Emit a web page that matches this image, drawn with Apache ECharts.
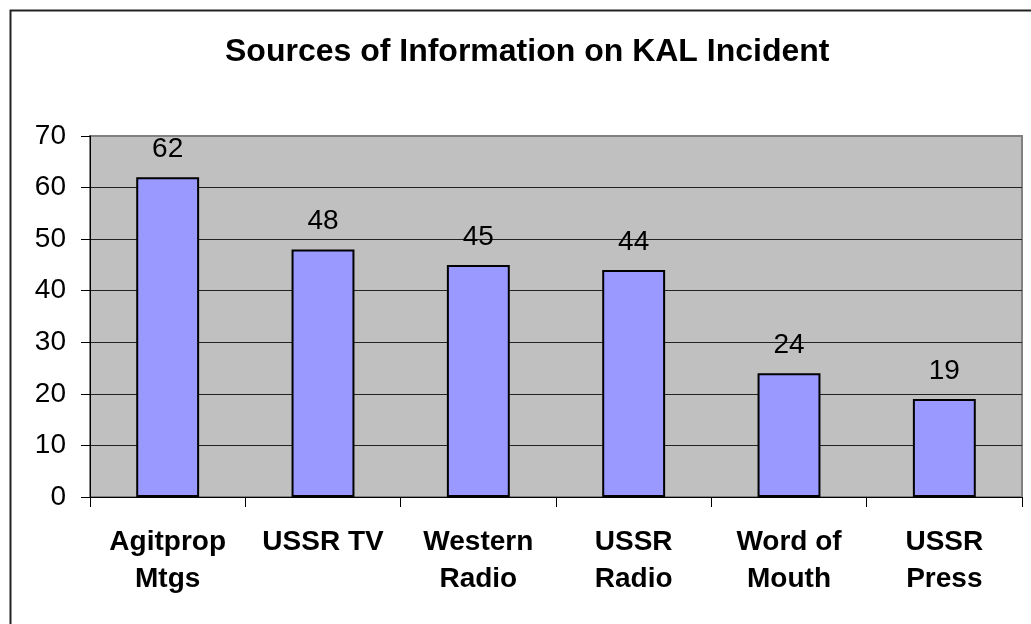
<!DOCTYPE html>
<html>
<head>
<meta charset="utf-8">
<script src="https://cdn.jsdelivr.net/npm/echarts@6/dist/echarts.min.js"></script>
<style>
html,body{margin:0;padding:0;background:#fff;}
#chart{width:1031px;height:624px;}
</style>
</head>
<body>
<div id="chart"></div>
<script>
const titleText = "Sources of Information on KAL Incident";
const categories = ["Agitprop\nMtgs", "USSR TV", "Western\nRadio", "USSR\nRadio", "Word of\nMouth", "USSR\nPress"];
const values = [62, 48, 45, 44, 24, 19];
const yMin = 0, yMax = 70, yInterval = 10;

const FONT = '"Liberation Sans", Arial, sans-serif';
const chart = echarts.init(document.getElementById('chart'), null, {renderer: 'canvas'});
chart.setOption({
  animation: false,
  backgroundColor: '#ffffff',
  title: {
    text: titleText,
    left: 220,
    top: 31,
    textStyle: {fontFamily: FONT, fontSize: 32, fontWeight: 'bold', color: '#000'}
  },
  graphic: [{
    type: 'rect',
    left: 8, top: 8,
    shape: {x: 0, y: 0, width: 1100, height: 700},
    style: {fill: 'none', stroke: '#222', lineWidth: 2},
    silent: true, z: -10
  }],
  grid: {
    left: 90, right: 9, top: 136, bottom: 127,
    show: true,
    backgroundColor: '#C0C0C0',
    borderColor: '#808080',
    borderWidth: 2
  },
  xAxis: {
    type: 'category',
    data: categories,
    axisLine: {show: true, lineStyle: {color: '#000', width: 1}},
    axisTick: {show: true, inside: false, length: 10, alignWithLabel: false, lineStyle: {color: '#000'}},
    axisLabel: {
      interval: 0, margin: 27,
      fontFamily: FONT, fontSize: 28, fontWeight: 'bold', color: '#000',
      lineHeight: 37, align: 'center'
    },
    splitLine: {show: false}
  },
  yAxis: {
    type: 'value',
    min: yMin, max: yMax, interval: yInterval,
    axisLine: {show: true, lineStyle: {color: '#000', width: 1}},
    axisTick: {show: true, inside: false, length: 9, lineStyle: {color: '#000'}},
    axisLabel: {margin: 24, fontFamily: FONT, fontSize: 28, color: '#000'},
    splitLine: {show: true, lineStyle: {color: ['#222', '#222', '#222', '#222', '#222', '#222', '#222', '#808080'], width: 1}}
  },
  series: [{
    type: 'bar',
    data: values,
    barWidth: '40.5%',
    itemStyle: {color: '#9999FF', borderColor: '#000', borderWidth: 2},
    label: {
      show: true, position: 'top', distance: 14,
      fontFamily: FONT, fontSize: 28, color: '#000'
    }
  }]
});
</script>
</body>
</html>
